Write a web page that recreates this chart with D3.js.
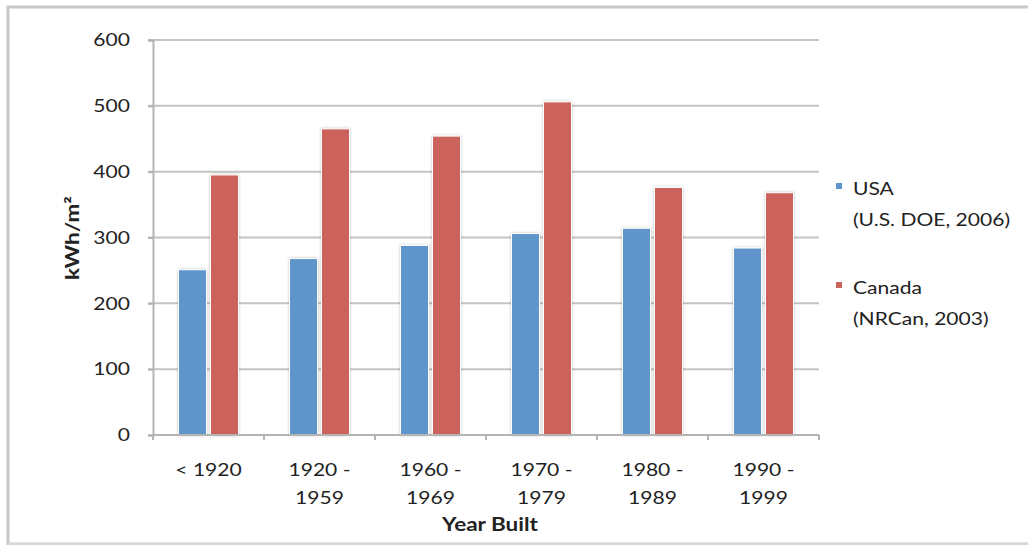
<!DOCTYPE html>
<html>
<head>
<meta charset="utf-8">
<script src="https://cdn.jsdelivr.net/npm/d3@7"></script>
<style>
  html, body { margin: 0; padding: 0; background: #fff; }
  svg { display: block; font-family: Lato, "Open Sans", sans-serif; }
</style>
</head>
<body>
<svg id="chart" width="1028" height="545"></svg>
<script>
// Energy intensity of dwellings by construction period
const categories = [["< 1920"], ["1920 -", "1959"], ["1960 -", "1969"], ["1970 -", "1979"], ["1980 -", "1989"], ["1990 -", "1999"]];
const usaValues = [251, 268, 288, 306, 314, 284];
const canadaValues = [395, 465, 454, 506, 376, 368];
const yTicks = [0, 100, 200, 300, 400, 500, 600];
const seriesNames = [["USA", "(U.S. DOE, 2006)"], ["Canada", "(NRCan, 2003)"]];
const colors = ["#5E95CA", "#CB635B"];

const svg = d3.select("#chart");
const plotLeft = 153, plotRight = 819, plotTop = 40, plotBottom = 435;
const FS = 18, SX = 1.17;          // label font size and horizontal stretch
const textColor = "#222";

// text helper: places a horizontally stretched label at (x, y)
function label(parent, x, y, str, anchor, opts = {}) {
  const rot = opts.rotate || 0;
  const sx = opts.sx || SX;
  return parent.append("text")
    .attr("transform", `translate(${x},${y}) rotate(${rot}) scale(${sx},1)`)
    .attr("text-anchor", anchor)
    .attr("font-size", opts.size || FS)
    .attr("font-weight", opts.bold ? "bold" : "normal")
    .attr("fill", textColor)
    .text(str);
}

// outer frame
svg.append("rect").attr("x", 8).attr("y", 7).attr("width", 1040).attr("height", 537)
  .attr("fill", "none").attr("stroke", "#c8c8c8").attr("stroke-width", 3);
svg.append("line").attr("x1", 8).attr("x2", 1028).attr("y1", 544).attr("y2", 544)
  .attr("stroke", "#e6e6e6").attr("stroke-width", 1);

const defs = svg.append("defs");
const f = defs.append("filter").attr("id", "shadow").attr("x", "-30%").attr("y", "-10%").attr("width", "160%").attr("height", "120%");
f.append("feGaussianBlur").attr("in", "SourceAlpha").attr("stdDeviation", 1.4).attr("result", "b");
f.append("feComponentTransfer").attr("in", "b").attr("result", "s")
  .append("feFuncA").attr("type", "linear").attr("slope", 0.25);
const m = f.append("feMerge");
m.append("feMergeNode").attr("in", "s");
m.append("feMergeNode").attr("in", "SourceGraphic");

const x = d3.scaleBand().domain(d3.range(categories.length)).range([plotLeft, plotRight]);
const y = d3.scaleLinear().domain([0, 600]).range([plotBottom, plotTop]);

// gridlines
svg.append("g").selectAll("line").data(yTicks.filter(d => d > 0)).join("line")
  .attr("x1", plotLeft - 5).attr("x2", plotRight)
  .attr("y1", d => y(d)).attr("y2", d => y(d))
  .attr("stroke", "#c4c4c4").attr("stroke-width", 2);

// y axis
const yAxis = svg.append("g").attr("transform", `translate(${plotLeft},0)`)
  .call(d3.axisLeft(y).tickValues(yTicks).tickSize(5).tickPadding(18));
yAxis.select(".domain").attr("stroke", "#b4b4b4").attr("stroke-width", 2);
yAxis.selectAll(".tick line").attr("stroke", "#b4b4b4").attr("stroke-width", 2);
yAxis.selectAll("text")
  .attr("font-size", FS).attr("fill", textColor).attr("font-family", "Lato, sans-serif")
  .attr("transform", function() { return `translate(${+this.getAttribute("x")},0) scale(${SX},1)`; })
  .attr("x", 0);

// bars
const barW = 28, gap = 4;
const groupW = 2 * barW + gap;
const data = categories.map((c, i) => ({ i, vals: [usaValues[i], canadaValues[i]] }));
const g = svg.append("g");
data.forEach(d => {
  d.vals.forEach((v, s) => {
    const bx = x(d.i) + (x.bandwidth() - groupW) / 2 + s * (barW + gap);
    g.append("rect")
      .attr("x", bx).attr("y", y(v))
      .attr("width", barW).attr("height", y(0) - y(v))
      .attr("fill", colors[s])
      .attr("stroke", "#fff").attr("stroke-width", 1)
      .attr("filter", "url(#shadow)");
  });
});

// x axis
const xAxis = svg.append("g");
xAxis.append("line").attr("x1", plotLeft).attr("x2", plotRight).attr("y1", plotBottom).attr("y2", plotBottom)
  .attr("stroke", "#b4b4b4").attr("stroke-width", 2);
const edges = x.domain().map(i => x(i)).concat([plotRight]);
xAxis.selectAll(".tk").data(edges).join("line")
  .attr("x1", d => d).attr("x2", d => d).attr("y1", plotBottom).attr("y2", plotBottom + 5)
  .attr("stroke", "#b4b4b4").attr("stroke-width", 2);
categories.forEach((lines, i) => {
  lines.forEach((ln, k) => label(xAxis, x(i) + x.bandwidth() / 2, 476 + k * 28, ln, "middle"));
});

// axis titles
label(svg, (plotLeft + plotRight) / 2 + 4, 531, "Year Built", "middle", { bold: true, sx: 1.25 });
label(svg, 79, 238, "kWh/m²", "middle", { bold: true, rotate: -90, sx: 1.25 });

// legend
const legend = svg.append("g");
seriesNames.forEach((lines, s) => {
  const ly = 189 + s * 99;
  legend.append("rect").attr("x", 836).attr("y", ly - 6).attr("width", 6).attr("height", 6).attr("fill", colors[s]);
  lines.forEach((ln, k) => label(legend, 853, ly + 6 + k * 31, ln, "start"));
});
</script>
</body>
</html>
